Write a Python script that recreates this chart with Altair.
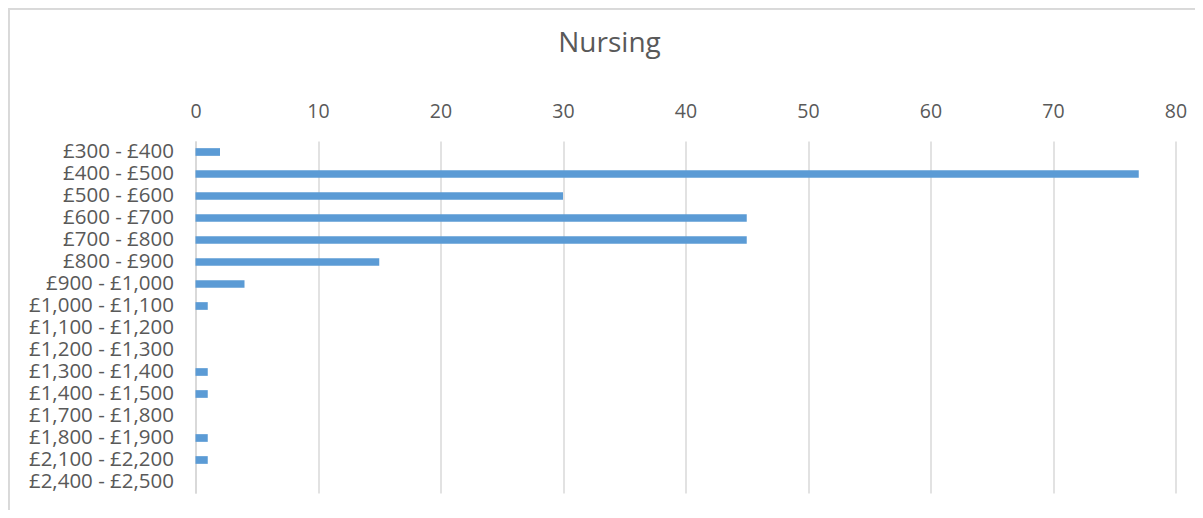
import altair as alt
import pandas as pd

categories = ["£300 - £400", "£400 - £500", "£500 - £600", "£600 - £700",
              "£700 - £800", "£800 - £900", "£900 - £1,000", "£1,000 - £1,100",
              "£1,100 - £1,200", "£1,200 - £1,300", "£1,300 - £1,400",
              "£1,400 - £1,500", "£1,700 - £1,800", "£1,800 - £1,900",
              "£2,100 - £2,200", "£2,400 - £2,500"]
counts = [2, 77, 30, 45, 45, 15, 4, 1, 0, 0, 1, 1, 0, 1, 1, 0]
x_ticks = [0, 10, 20, 30, 40, 50, 60, 70, 80]

df = pd.DataFrame({"band": categories, "count": counts})

FONT = "Open Sans"
TEXT = "#595959"
GRID = "#D9D9D9"

bars = alt.Chart(df).mark_bar(color="#5B9BD5").encode(
    y=alt.Y("band:N", sort=categories, title=None,
            scale=alt.Scale(paddingInner=0.65, paddingOuter=0.325),
            axis=alt.Axis(ticks=False, domain=True, domainColor=GRID,
                          domainWidth=2, labelFont=FONT, labelFontSize=20.5,
                          labelColor=TEXT, labelPadding=22, labelLimit=400)),
    x=alt.X("count:Q", title=None,
            scale=alt.Scale(domain=[0, 80], nice=False),
            axis=alt.Axis(orient="top", values=x_ticks, ticks=False,
                          domain=False, grid=True, gridColor=GRID,
                          gridWidth=1.5, labelFont=FONT, labelFontSize=19.5,
                          labelColor=TEXT, labelPadding=20, labelFlush=False)),
)

frame_top = alt.Chart(df).mark_rule(color=GRID, strokeWidth=2).encode(
    x=alt.value(-187), x2=alt.value(1000), y=alt.value(-132.5))
frame_left = alt.Chart(df).mark_rule(color=GRID, strokeWidth=2).encode(
    x=alt.value(-187), y=alt.value(-132.5), y2=alt.value(380))

chart = alt.layer(frame_top, frame_left, bars).properties(
    width=980, height=352,
    autosize=alt.AutoSizeParams(type="none"),
    padding={"left": 187.5, "top": 133, "right": 19, "bottom": 17},
    title=alt.TitleParams("Nursing", font=FONT, fontSize=28, fontWeight="normal",
                          color=TEXT, anchor="middle", frame="group", dx=-76,
                          offset=-50),
).configure_view(stroke=None)

chart.save("out.html", embed_options={"renderer": "svg", "actions": False})
